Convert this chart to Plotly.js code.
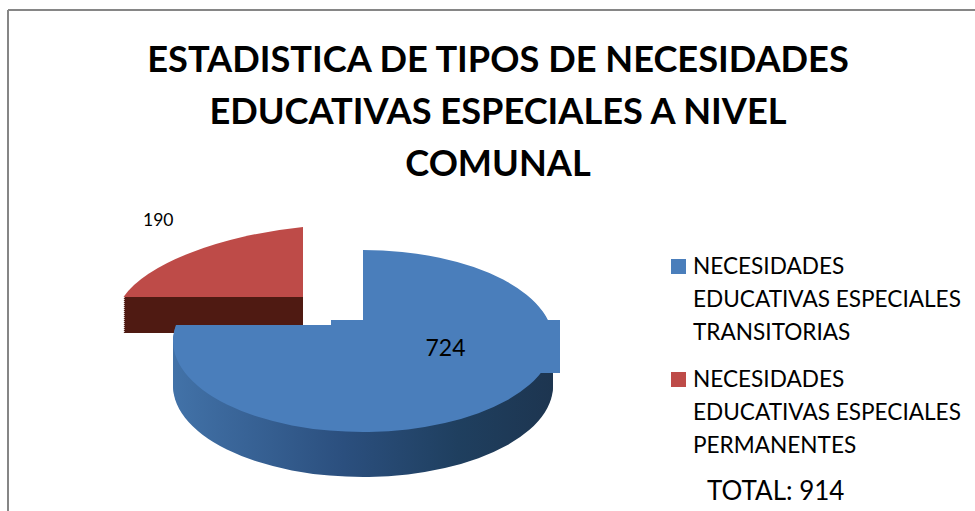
<!DOCTYPE html>
<html><head><meta charset="utf-8">
<script src="https://cdn.plot.ly/plotly-3.0.1.min.js"></script>
<style>html,body{margin:0;padding:0;background:#fff;overflow:hidden}#chart{width:975px;height:511px}</style>
</head><body><div id="chart"></div>
<script>
const titleLines = ["ESTADISTICA DE TIPOS DE NECESIDADES","EDUCATIVAS ESPECIALES A NIVEL","COMUNAL"];
const categories = ["NECESIDADES<br>EDUCATIVAS ESPECIALES<br>TRANSITORIAS","NECESIDADES<br>EDUCATIVAS ESPECIALES<br>PERMANENTES"];
const values = [724,190];
const topColors = ["#4a7ebb","#be4b48"];
const sideColors = ["#2c4f7c","#4f1a12"];
const W=975,H=511,FONT="Lato, 'Open Sans', sans-serif";
const px=x=>x/W, py=y=>1-y/H;
const NONE="rgba(0,0,0,0)";
const R=Math.min(W,H)/2;
const total=values.reduce((a,b)=>a+b,0);
const blue={cx:363,cy:341,rx:190,ry:91,depth:45,index:0};
const red={cx:303,cy:297,rx:186,ry:70,depth:36,index:1};
const layers=[];
function addPart(p){
  for(let d=p.depth;d>0;d-=2) layers.push({p,dy:d,side:true});
  layers.push({p,dy:0,side:false});
}
addPart(red);addPart(blue);
layers.push({p:blue,dy:-16,side:false,strip:true});
const traces=layers.map(l=>({
  type:"pie",labels:categories,values:values,sort:false,direction:"clockwise",rotation:0,
  textinfo:"none",hoverinfo:"skip",showlegend:false,domain:{x:[0,1],y:[0,1]},
  marker:{colors:values.map((v,i)=>i===l.p.index?(l.side?sideColors[i]:topColors[i]):NONE),line:{width:0}}
}));
const legendTop=[258,371];
const LEG=22.6;
const ann={xref:"paper",yref:"paper",showarrow:false};
const annotations=[
 {...ann,text:String(values[1]),x:px(158),y:py(219),xanchor:"center",yanchor:"middle",font:{family:FONT,size:17.5,color:"#000"}},
 {...ann,text:String(values[0]),x:px(445.5),y:py(346.5),xanchor:"center",yanchor:"middle",width:229,height:53,bgcolor:topColors[0],borderpad:0,borderwidth:0,font:{family:FONT,size:23,color:"#000"}},
 ...categories.map((c,i)=>({...ann,text:c,x:px(691),y:py(legendTop[i]-8),xanchor:"left",yanchor:"top",align:"left",font:{family:FONT,size:LEG,color:"#000"}})),
 {...ann,text:"TOTAL: "+total,x:px(705),y:py(490),xanchor:"left",yanchor:"middle",font:{family:FONT,size:26,color:"#000"}}
];
const border={type:"line",xref:"paper",yref:"paper",line:{color:"#868686",width:2}};
const shapes=[
 {...border,x0:px(8),x1:px(8),y0:py(10),y1:py(511)},
 {...border,x0:px(8),x1:px(975),y0:py(10),y1:py(10)},
 ...[0,1].map(i=>({type:"rect",xref:"paper",yref:"paper",x0:px(671),x1:px(686),y0:py(legendTop[i]+1),y1:py(legendTop[i]+16),fillcolor:topColors[i],line:{width:0}}))
];
const layout={width:W,height:H,margin:{l:0,r:0,t:0,b:0},paper_bgcolor:"#fff",showlegend:false,
 title:{text:titleLines.join("<br>"),x:498/W,xanchor:"center",y:1-72/H+0,yanchor:"top",font:{family:FONT,size:36.2,color:"#000",weight:700}},
 annotations,shapes};
Plotly.newPlot("chart",traces,layout,{displayModeBar:false,staticPlot:true}).then(gd=>{
  const svg=gd.querySelector(".main-svg");
  const NS="http://www.w3.org/2000/svg";
  const defs=document.createElementNS(NS,"defs");
  const g=document.createElementNS(NS,"linearGradient");g.id="blueSide";
  [["0","#4272a8"],["0.45","#2b4f7e"],["0.75","#1f3f5f"],["1","#1d3550"]].forEach(([o,c])=>{
    const s=document.createElementNS(NS,"stop");s.setAttribute("offset",o);s.setAttribute("stop-color",c);g.appendChild(s);});
  defs.appendChild(g);
  const clip=(id,d)=>{const c=document.createElementNS(NS,"clipPath");c.id=id;const p=document.createElementNS(NS,"path");p.setAttribute("d",d);c.appendChild(p);defs.appendChild(c);};
  clip("blueCut","M0 325H363V0H975V511H0Z");
  clip("blueStrip","M240 325H363V345H240Z");
  svg.appendChild(defs);
  const groups=[...gd.querySelectorAll(".pielayer .trace")];
  const angle=values[0]/total*2*Math.PI;
  groups.forEach((t,i)=>{
    const l=layers[i],p=l.p,sx=p.rx/R,sy=p.ry/R;
    const k=p===red?-Math.abs(Math.cos(angle)*sy/Math.sin(angle)):0;
    const e=p.cx-(W/2)*sx, f=p.cy+l.dy-(H/2)*sy-(W/2)*k;
    t.setAttribute("transform",`matrix(${sx},${k},0,${sy},${e},${f})`);
    if(l.side&&p===blue) t.querySelectorAll("path.surface").forEach((s,j)=>{if(j===0) s.style.fill="url(#blueSide)";});
    if(p===blue){
      const w=document.createElementNS(NS,"g");
      w.setAttribute("clip-path",l.strip?"url(#blueStrip)":"url(#blueCut)");
      t.parentNode.insertBefore(w,t);w.appendChild(t);
    }
  });
  const spacing=(sel,step)=>{sel.forEach((n,i)=>n.setAttribute("dy",(i*step)+"em"));};
  spacing(gd.querySelectorAll(".gtitle tspan.line"),52/36.2);
  gd.querySelectorAll(".annotation-text").forEach(t=>{
    const L=t.querySelectorAll("tspan.line"); if(L.length>1) spacing(L,33/LEG);
  });
});
</script></body></html>
